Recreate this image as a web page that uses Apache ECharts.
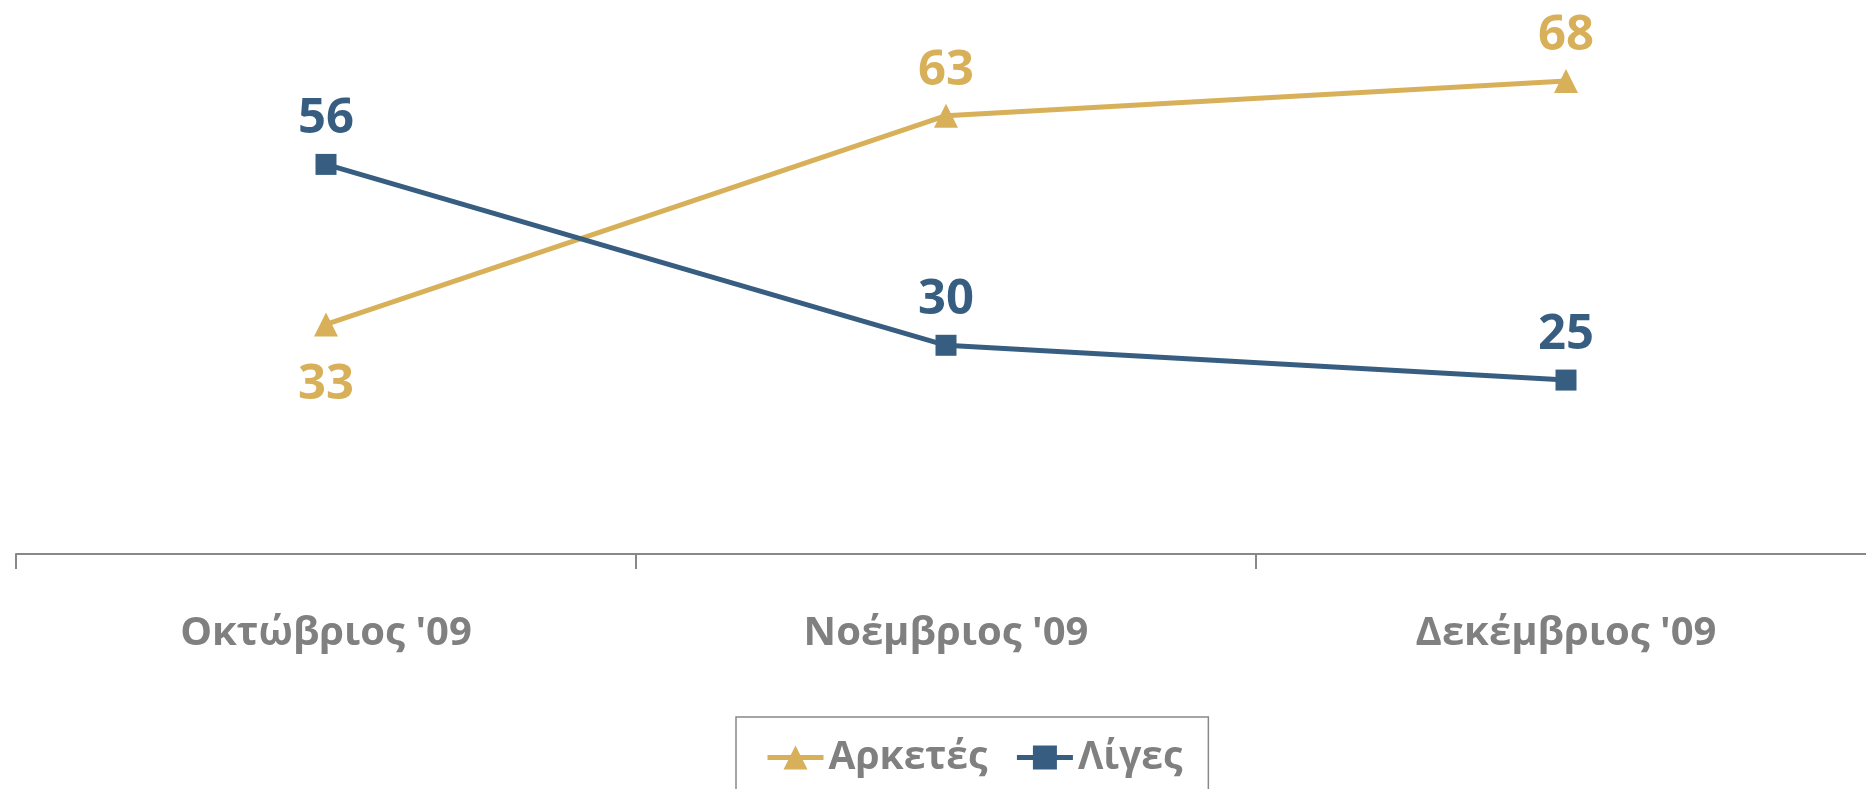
<!DOCTYPE html>
<html>
<head>
<meta charset="utf-8">
<script src="https://cdn.jsdelivr.net/npm/echarts@6.0.0/dist/echarts.min.js"></script>
<style>
  html, body { margin: 0; padding: 0; background: #fff; }
  #chart { width: 1866px; height: 789px; }
</style>
</head>
<body>
<div id="chart"></div>
<script>
// μήνες και ποσοστά
const months = ["Οκτώβριος '09", "Νοέμβριος '09", "Δεκέμβριος '09"];
const arketes = [33, 63, 68];
const liges = [56, 30, 25];

const gold = "#D8B05A";
const blue = "#375E81";
const grey = "#808080";
const font = "Open Sans";

let chart = echarts.init(document.getElementById("chart"));

let labelStyle = (color, dist) => ({
  show: true,
  position: "top",
  distance: dist,
  color: color,
  fontFamily: font,
  fontWeight: "bold",
  fontSize: 49
});

chart.setOption({
  animation: false,
  grid: { left: 16, top: 67, width: 1860, bottom: 235, outerBoundsMode: "none" },
  xAxis: {
    type: "category",
    data: months,
    boundaryGap: true,
    axisLine: { lineStyle: { color: "#888888", width: 2 } },
    axisTick: { show: true, length: 15, lineStyle: { color: "#888888", width: 2 } },
    axisLabel: {
      color: grey,
      fontFamily: font,
      fontWeight: "bold",
      fontSize: 40,
      margin: 60
    }
  },
  yAxis: {
    type: "value",
    min: 0,
    max: 70,
    show: false,
    splitLine: { show: false }
  },
  legend: {
    left: 736,
    top: 717,
    padding: [21, 26, 40, 29],
    borderColor: "#888888",
    borderWidth: 1.5,
    itemWidth: 56,
    itemHeight: 30,
    itemGap: 27,
    lineStyle: { width: 5 },
    textStyle: { color: grey, fontFamily: font, fontWeight: "bold", fontSize: 39 }
  },
  series: [
    {
      name: "Αρκετές",
      type: "line",
      data: arketes.map((v, i) =>
        i === 0 ? { value: v, label: { position: "bottom", distance: 24 } } : v
      ),
      symbol: "triangle",
      symbolSize: 24,
      itemStyle: { color: gold },
      lineStyle: { color: gold, width: 5 },
      label: labelStyle(gold, 8)
    },
    {
      name: "Λίγες",
      type: "line",
      data: liges,
      symbol: "rect",
      symbolSize: 21,
      itemStyle: { color: blue },
      lineStyle: { color: blue, width: 5 },
      label: labelStyle(blue, 10)
    }
  ]
});
</script>
</body>
</html>
